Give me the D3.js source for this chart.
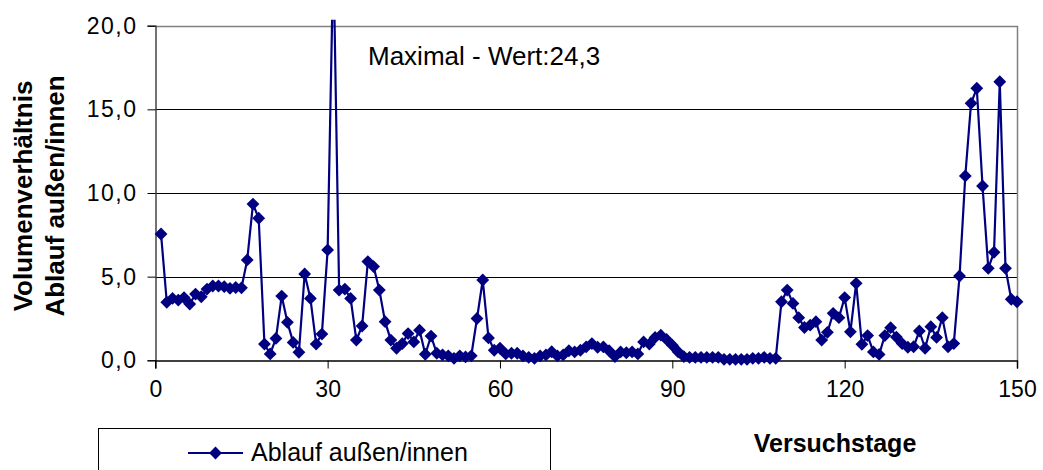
<!DOCTYPE html>
<html>
<head>
<meta charset="utf-8">
<script src="https://cdn.jsdelivr.net/npm/d3@7"></script>
<style>
  html, body { margin: 0; padding: 0; background: #fff; }
  svg { display: block; font-family: "Liberation Sans", Arial, sans-serif; }
</style>
</head>
<body>
<svg id="chart" width="1043" height="470"></svg>
<script>
// Versuchstage (Tag 1 bis 150)
const days = d3.range(1, 151);

// Volumenverhältnis Ablauf außen/innen je Versuchstag
const ratio = [
  7.55, 3.47, 3.70, 3.60, 3.75, 3.36, 3.96, 3.80, 4.26, 4.44,
  4.44, 4.40, 4.30, 4.35, 4.33, 6.00, 9.34, 8.49, 0.97, 0.38,
  1.31, 3.84, 2.27, 1.07, 0.48, 5.16, 3.70, 0.97, 1.57, 6.60,
  24.3, 4.20, 4.26, 3.70, 1.21, 2.05, 5.90, 5.60, 4.20, 2.31,
  1.21, 0.72, 1.00, 1.60, 1.10, 1.80, 0.36, 1.45, 0.42, 0.33,
  0.27, 0.12, 0.27, 0.20, 0.27, 2.50, 4.80, 1.34, 0.60, 0.72,
  0.38, 0.42, 0.42, 0.26, 0.18, 0.12, 0.26, 0.32, 0.51, 0.26,
  0.32, 0.57, 0.50, 0.60, 0.80, 1.00, 0.78, 0.80, 0.57, 0.22,
  0.50, 0.45, 0.50, 0.38, 1.10, 0.97, 1.37, 1.50, 1.25, 0.90,
  0.51, 0.22, 0.18, 0.18, 0.18, 0.18, 0.18, 0.18, 0.06, 0.06,
  0.06, 0.06, 0.06, 0.12, 0.12, 0.18, 0.12, 0.12, 3.50, 4.20,
  3.40, 2.55, 1.96, 2.10, 2.31, 1.21, 1.67, 2.81, 2.55, 3.75,
  1.70, 4.60, 0.96, 1.48, 0.50, 0.35, 1.48, 1.95, 1.39, 1.00,
  0.78, 0.81, 1.75, 0.72, 2.01, 1.37, 2.55, 0.81, 1.00, 5.04,
  11.02, 15.36, 16.26, 10.42, 5.50, 6.46, 16.65, 5.50, 3.65, 3.50
];

// Achsenbeschriftung
const xTicks = [0, 30, 60, 90, 120, 150];
const yTicks = [0, 5, 10, 15, 20];
const seriesName = "Ablauf außen/innen";
const xTitle = "Versuchstage";
const yTitleLines = ["Volumenverhältnis", "Ablauf außen/innen"];
const maxNote = "Maximal - Wert:24,3";

const data = days.map((d, i) => ({ day: d, value: ratio[i] }));

const svg = d3.select("#chart");
const navy = "#000080";

const plot = { left: 155.3, right: 1017, top: 25.7, bottom: 360.3 };

const x = d3.scaleLinear().domain([0, 150]).range([plot.left, plot.right]);
const y = d3.scaleLinear().domain([0, 20]).range([plot.bottom, plot.top]);

const de = d3.formatLocale({ decimal: ",", thousands: ".", grouping: [3], currency: ["", " €"] });
const fmt1 = de.format(".1f");

// Horizontale Gitterlinien
svg.append("g")
  .selectAll("line")
  .data(yTicks.filter(v => v > 0 && v < 20))
  .join("line")
  .attr("x1", plot.left).attr("x2", plot.right)
  .attr("y1", d => Math.round(y(d)) + 0.5).attr("y2", d => Math.round(y(d)) + 0.5)
  .attr("stroke", "#000").attr("stroke-width", 1);

// Rahmen der Zeichenfläche (oben, rechts)
svg.append("path")
  .attr("d", `M${plot.left},${Math.round(plot.top) + 0.5}H${Math.round(plot.right) + 0.5}V${plot.bottom}`)
  .attr("fill", "none").attr("stroke", "#808080").attr("stroke-width", 1.5);

// Y-Achse
const yAxis = svg.append("g")
  .attr("transform", `translate(${Math.round(plot.left) + 0.5},0)`)
  .call(d3.axisLeft(y).tickValues(yTicks).tickFormat(fmt1).tickSize(8).tickPadding(10));
yAxis.select(".domain").attr("stroke", "#444").attr("stroke-width", 1.5);
yAxis.selectAll(".tick line").attr("stroke", "#000");
yAxis.selectAll(".tick text")
  .attr("font-size", 23).attr("fill", "#000")
  .attr("font-family", "Liberation Sans, Arial, sans-serif")
  .style("letter-spacing", "1.5px");

// X-Achse
const xAxis = svg.append("g")
  .attr("transform", `translate(0,${Math.round(plot.bottom) + 0.5})`)
  .call(d3.axisBottom(x).tickValues(xTicks).tickFormat(d3.format("d")).tickSize(8).tickPadding(12));
xAxis.select(".domain").attr("stroke", "#000").attr("stroke-width", 1.5);
xAxis.selectAll(".tick line").attr("stroke", "#000");
xAxis.selectAll(".tick text")
  .attr("font-size", 23).attr("fill", "#000")
  .attr("font-family", "Liberation Sans, Arial, sans-serif");

// Datenreihe, oben leicht über der Zeichenfläche abgeschnitten
svg.append("clipPath").attr("id", "plotClip")
  .append("rect")
  .attr("x", 0).attr("y", plot.top - 6)
  .attr("width", 1043).attr("height", 470);

const line = d3.line().x(d => x(d.day)).y(d => y(d.value));

const series = svg.append("g").attr("clip-path", "url(#plotClip)");
series.append("path")
  .datum(data)
  .attr("d", line)
  .attr("fill", "none")
  .attr("stroke", navy)
  .attr("stroke-width", 2.2)
  .attr("stroke-linejoin", "round");

const diamond = d3.symbol().type(d3.symbolSquare).size(82);
series.selectAll("path.pt")
  .data(data.filter(d => d.value <= 20))
  .join("path")
  .attr("class", "pt")
  .attr("d", diamond)
  .attr("transform", d => `translate(${x(d.day)},${y(d.value)}) rotate(45)`)
  .attr("fill", navy);

// Hinweis auf den Maximalwert
svg.append("text")
  .attr("x", 368).attr("y", 65)
  .attr("font-size", 26).attr("fill", "#000")
  .text(maxNote);

// Achsentitel
svg.append("text")
  .attr("x", 835).attr("y", 452)
  .attr("text-anchor", "middle")
  .attr("font-size", 25).attr("font-weight", "bold")
  .text(xTitle);

const yTitle = svg.append("text")
  .attr("transform", "translate(0,196) rotate(-90)")
  .attr("text-anchor", "middle")
  .attr("font-size", 26).attr("font-weight", "bold");
yTitle.selectAll("tspan")
  .data(yTitleLines)
  .join("tspan")
  .attr("x", 0)
  .attr("y", (d, i) => 32 + i * 32)
  .text(d => d);

// Legende
const legend = svg.append("g");
legend.append("rect")
  .attr("x", 98.5).attr("y", 428.5)
  .attr("width", 452).attr("height", 60)
  .attr("fill", "#fff").attr("stroke", "#000").attr("stroke-width", 1);
legend.append("line")
  .attr("x1", 188).attr("x2", 243)
  .attr("y1", 453).attr("y2", 453)
  .attr("stroke", navy).attr("stroke-width", 2.2);
legend.append("path")
  .attr("d", diamond)
  .attr("transform", "translate(215.5,453) rotate(45)")
  .attr("fill", navy);
legend.append("text")
  .attr("x", 251).attr("y", 461)
  .attr("font-size", 25).attr("fill", "#000")
  .text(seriesName);
</script>
</body>
</html>
